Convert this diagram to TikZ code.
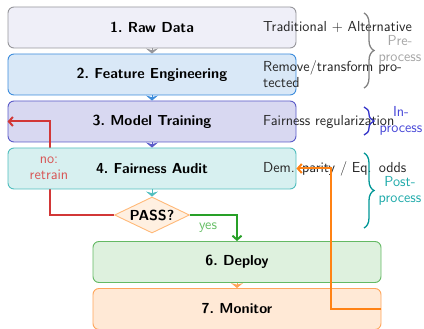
\documentclass[tikz,border=0pt]{standalone}
\usepackage{fontspec}
\usetikzlibrary{shapes.geometric,arrows.meta,decorations.pathreplacing}

% stage colours (fill / border)
\definecolor{rawF}{RGB}{239,239,248}  \definecolor{rawD}{RGB}{150,150,155}
\definecolor{feaF}{RGB}{217,232,247}  \definecolor{feaD}{RGB}{60,140,220}
\definecolor{trnF}{RGB}{216,216,241}  \definecolor{trnD}{RGB}{90,90,200}
\definecolor{audF}{RGB}{215,240,240}  \definecolor{audD}{RGB}{80,190,190}
\definecolor{depF}{RGB}{222,241,222}  \definecolor{depD}{RGB}{100,185,100}
\definecolor{monF}{RGB}{255,233,214}  \definecolor{monD}{RGB}{255,165,90}
\definecolor{pasF}{RGB}{255,240,225}  \definecolor{pasD}{RGB}{255,185,120}
% connectors and annotations
\definecolor{noC}{RGB}{210,55,55}     \definecolor{noT}{RGB}{215,85,85}
\definecolor{yesC}{RGB}{40,160,40}    \definecolor{yesT}{RGB}{100,190,100}
\definecolor{fbC}{RGB}{255,130,20}
\definecolor{preB}{RGB}{130,130,130}  \definecolor{preT}{RGB}{165,165,165}
\definecolor{inB}{RGB}{50,50,200}     \definecolor{inT}{RGB}{70,70,215}
\definecolor{postB}{RGB}{0,150,150}   \definecolor{postT}{RGB}{30,170,170}

\begin{document}
\begin{tikzpicture}[x=1pt,y=-1pt,
  font=\sffamily\fontsize{14.5}{16}\selectfont,
  stage/.style={draw, rounded corners=6pt, minimum width=288pt,
    minimum height=41pt, line width=0.9pt,
    font=\sffamily\bfseries\fontsize{14.5}{16}\selectfont},
  stagetip/.style={-{Stealth[length=5pt,width=12pt]}, line width=1pt},
  backline/.style={line width=2pt, -{Straight Barb[length=4pt,width=9pt]}},
  note/.style={anchor=west, inner sep=0pt, text width=155pt, align=left,
    text=black!85},
  phasebrace/.style={decorate, decoration={brace, amplitude=10pt},
    line width=1.3pt},
  phase/.style={align=center, inner sep=0pt}]

\useasboundingbox (0,0) rectangle (424,329);

% pipeline stages
\node[stage, fill=rawF, draw=rawD] (raw)   at (152,27.5)  {1.\ Raw Data};
\node[stage, fill=feaF, draw=feaD] (feat)  at (152,74.5)  {2.\ Feature Engineering};
\node[stage, fill=trnF, draw=trnD] (train) at (152,121.5) {3.\ Model Training};
\node[draw=pasD, fill=pasF, line width=0.9pt, shape=diamond, aspect=2,
  inner sep=0pt, minimum width=75pt, minimum height=36pt,
  font=\sffamily\bfseries\fontsize{14.5}{16}\selectfont] (pass) at (152,215) {PASS?};
\node[stage, fill=depF, draw=depD] (deploy)  at (237,262) {6.\ Deploy};
\node[stage, fill=monF, draw=monD] (monitor) at (237,309) {7.\ Monitor};

% failed audit goes back to training
\draw[backline, draw=noC] (pass.west) -| ([xshift=42pt]train.west) -- (train.west);

\node[stage, fill=audF, draw=audD] (audit) at (152,168.5) {4.\ Fairness Audit};
\node[phase, text=noT] (nolbl) at (49,168) {no:\\retrain};

% forward flow
\draw[stagetip, draw=rawD, fill=rawD] (raw.south) -- (feat.north);
\draw[stagetip, draw=feaD, fill=feaD] (feat.south) -- (train.north);
\draw[stagetip, draw=trnD, fill=trnD] (train.south) -- (audit.north);
\draw[stagetip, draw=audD, fill=audD] (audit.south) -- (pass.north);
\draw[stagetip, draw=monD, fill=monD] (deploy.south) -- (monitor.north);

\draw[backline, draw=yesC] (pass.east) -| (deploy.north);
\node[text=yesT, inner sep=0pt] (yeslbl) at (208,228) {yes};

% what happens at each stage
\node[note] (n1) at (263,27.5)  {Traditional + Alternative};
\node[note] (n2) at (263,74.5)  {Remove/transform protected};
\node[note] (n3) at (263,121.5) {Fairness regularization};
\node[note] (n4) at (263,168.5) {Dem. parity / Eq. odds};

% intervention phases
\draw[phasebrace, draw=preB]  (364,13)  -- (364,88);
\node[phase, text=preT]  (pre)  at (400,50)  {Pre-\\process};
\draw[phasebrace, draw=inB]   (364,107) -- (364,135);
\node[phase, text=inT]   (in)   at (401,121) {In-\\process};
\draw[phasebrace, draw=postB] (364,153) -- (364,228);
\node[phase, text=postT] (post) at (400,191) {Post-\\process};

% monitoring feeds back into the audit
\draw[backline, draw=fbC] (monitor.east) -- ++(-50pt,0) |- (audit.east);
\end{tikzpicture}
\end{document}
